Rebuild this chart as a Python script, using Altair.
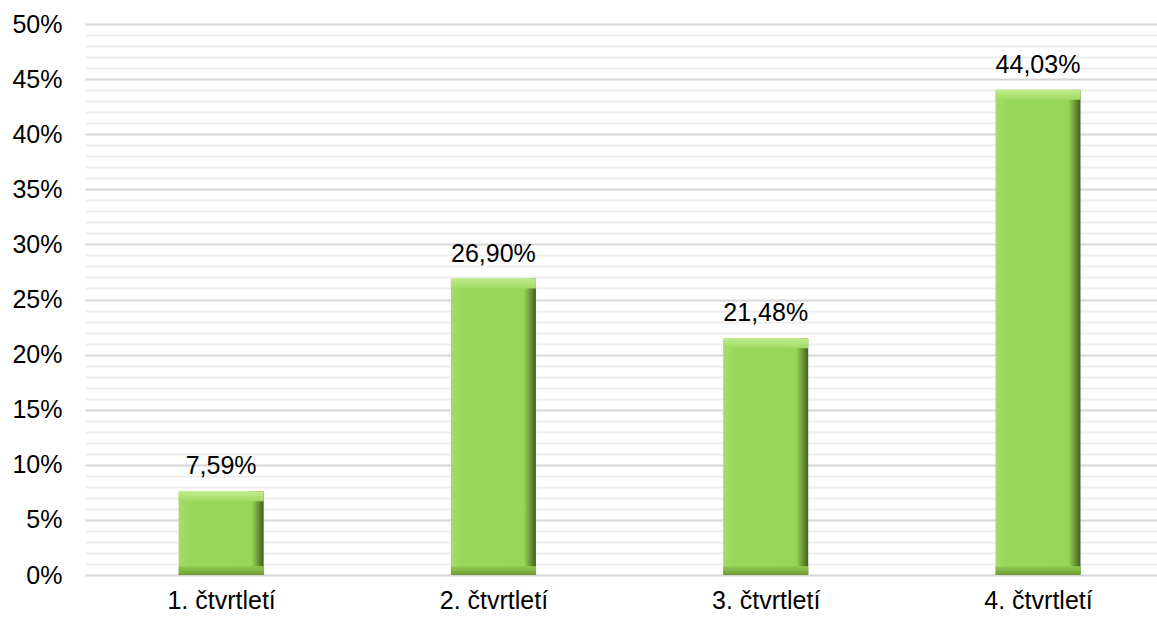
import altair as alt
import pandas as pd

# Quarterly shares (percent)
categories = ["1. čtvrtletí", "2. čtvrtletí", "3. čtvrtletí", "4. čtvrtletí"]
shares = [7.59, 26.90, 21.48, 44.03]
y_ticks = list(range(0, 51))

df = pd.DataFrame({"idx": list(range(len(categories))), "cat": categories, "value": shares})

FONT = "Liberation Sans"
BAR_W = 85

label_expr = "[" + ",".join(f"'{c}'" for c in categories) + "][datum.value]"

x_enc = alt.X(
    "idx:Q",
    scale=alt.Scale(domain=[-0.5, 3.437], nice=False, zero=False, padding=0),
    axis=alt.Axis(
        values=[0, 1, 2, 3],
        labelExpr=label_expr,
        title=None,
        grid=False,
        domain=False,
        ticks=False,
        labelPadding=13,
        labelFontSize=25,
        labelFont=FONT,
        labelColor="#000000",
    ),
)

y_scale = alt.Scale(domain=[0, 50], nice=False, padding=0)
y_axis = alt.Axis(
    values=y_ticks,
    tickCount=60,
    labelExpr="datum.value % 5 === 0 ? datum.value + '%' : ''",
    labelOverlap=False,
    title=None,
    domain=False,
    ticks=False,
    labelPadding=23,
    labelFontSize=25,
    labelFont=FONT,
    labelColor="#000000",
    grid=True,
    gridColor={"condition": {"test": "datum.value % 5 === 0", "value": "#d6d6d6"}, "value": "#eeeeee"},
    gridWidth=2,
)

base = alt.Chart(df)

# bar body with side shading
body = base.mark_bar(
    size=BAR_W,
    color=alt.Gradient(
        gradient="linear",
        x1=0, y1=0, x2=1, y2=0,
        stops=[
            alt.GradientStop(offset=0.0, color="#a6dc6a"),
            alt.GradientStop(offset=0.12, color="#99d65c"),
            alt.GradientStop(offset=0.86, color="#96d45a"),
            alt.GradientStop(offset=0.93, color="#6d9c38"),
            alt.GradientStop(offset=1.0, color="#3f5f1c"),
        ],
    ),
).encode(x=x_enc, y=alt.Y("value:Q", scale=y_scale, axis=y_axis))

# light top bevel
top_cap = base.transform_calculate(
    lo="datum.value - 0.9"
).mark_bar(
    size=BAR_W,
    color=alt.Gradient(
        gradient="linear",
        x1=0, y1=0, x2=0, y2=1,
        stops=[
            alt.GradientStop(offset=0.0, color="#c2ec8e"),
            alt.GradientStop(offset=1.0, color="#9fda62"),
        ],
    ),
).encode(x="idx:Q", y="value:Q", y2="lo:Q")

# darker bottom bevel
bottom_cap = base.transform_calculate(
    lo="0", hi="0.8"
).mark_bar(
    size=BAR_W,
    color=alt.Gradient(
        gradient="linear",
        x1=0, y1=0, x2=0, y2=1,
        stops=[
            alt.GradientStop(offset=0.0, color="#8fcb52"),
            alt.GradientStop(offset=1.0, color="#6f9f38"),
        ],
    ),
).encode(x="idx:Q", y="hi:Q", y2="lo:Q")

labels = base.transform_calculate(
    label="replace(format(datum.value, '.2f'), '.', ',') + '%'"
).mark_text(
    baseline="alphabetic", dy=-17, fontSize=25, font=FONT, color="#000000"
).encode(x="idx:Q", y="value:Q", text="label:N")

chart = (
    alt.layer(body, top_cap, bottom_cap, labels)
    .properties(
        width=1072,
        height=551,
        autosize=alt.AutoSizeParams(type="none"),
        padding={"left": 85, "top": 24, "right": 0, "bottom": 37},
        background="#ffffff",
    )
    .configure_view(stroke=None)
)

chart.save("out.html", embed_options={"renderer": "svg", "actions": False})
